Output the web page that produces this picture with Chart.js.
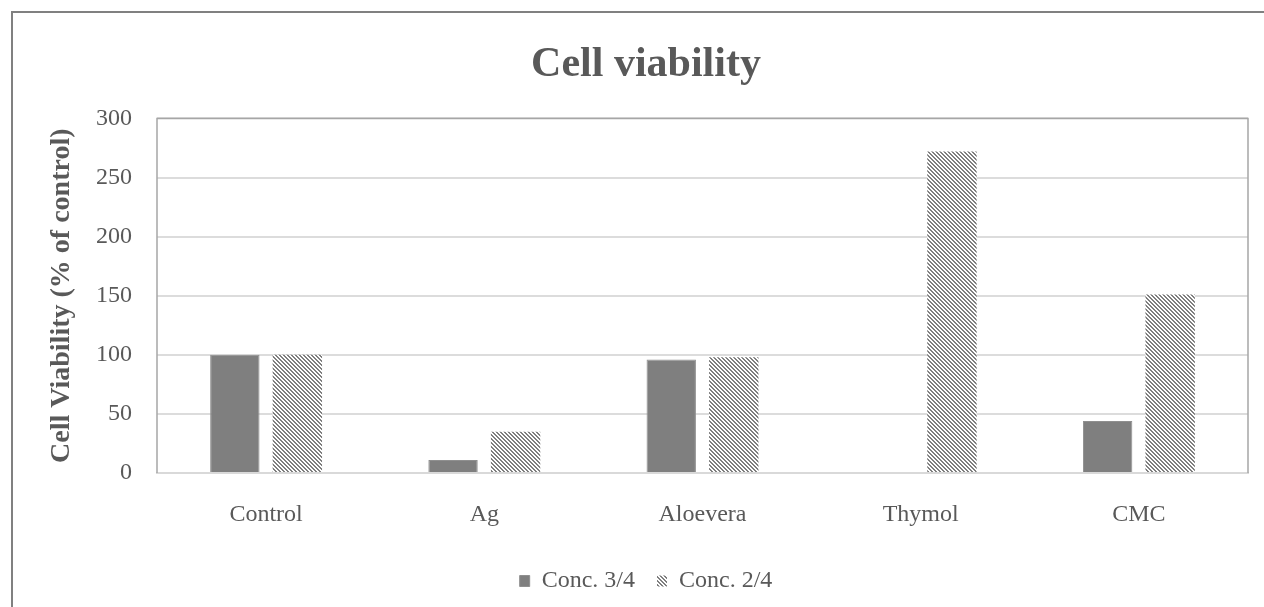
<!DOCTYPE html>
<html>
<head>
<meta charset="utf-8">
<script src="https://cdn.jsdelivr.net/npm/chart.js@4.4.0/dist/chart.umd.min.js"></script>
<style>
  html, body { margin: 0; padding: 0; background: #fff; overflow: hidden; width: 1264px; height: 607px; }
  #frame { position: absolute; left: 11px; top: 11px; width: 3000px; height: 3000px;
           border-top: 2px solid #808080; border-left: 2px solid #808080; }
  /* the original frame runs past the right edge, so the canvas does too */
  #wrap { position: absolute; left: 0; top: 0; width: 1292px; height: 607px; }
</style>
</head>
<body>
<div id="frame"></div>
<div id="wrap"><canvas id="chart"></canvas></div>
<script>
const categories = ['Control', 'Ag', 'Aloevera', 'Thymol', 'CMC'];
const conc34 = [100, 11, 96, 0, 44];
const conc24 = [100, 35, 98, 272, 151];
const yTicks = [0, 50, 100, 150, 200, 250, 300];

const FONT = "'Liberation Serif', 'Times New Roman', serif";
const TEXT = '#595959';

// diagonal hatch like Excel's "dark downward diagonal"
function makeHatch() {
    const c = document.createElement('canvas');
    c.width = 4; c.height = 4;
    const g = c.getContext('2d');
    g.fillStyle = '#ffffff';
    g.fillRect(0, 0, 4, 4);
    g.fillStyle = '#7f7f7f';
    for (let y = 0; y < 4; y++) {
        for (let x = 0; x < 4; x++) {
            if (((x - y + 8) % 4) < 2) g.fillRect(x, y, 1, 1);
        }
    }
    return g.createPattern(c, 'repeat');
}
const hatch = makeHatch();

const plotBox = {
    id: 'plotBox',
    afterDatasetsDraw(chart) {
        const {ctx, chartArea: a} = chart;
        ctx.save();
        ctx.strokeStyle = '#a6a6a6';
        ctx.lineWidth = 1.5;
        ctx.beginPath();
        ctx.moveTo(a.left, a.bottom);
        ctx.lineTo(a.left, a.top);
        ctx.lineTo(a.right, a.top);
        ctx.lineTo(a.right, a.bottom);
        ctx.stroke();
        ctx.restore();
    }
};

new Chart(document.getElementById('chart'), {
    type: 'bar',
    data: {
        labels: categories,
        datasets: [{
            label: 'Conc. 3/4',
            data: conc34,
            backgroundColor: '#7f7f7f',
            borderColor: '#8f8f8f',
            borderWidth: 1
        }, {
            label: 'Conc. 2/4',
            data: conc24,
            backgroundColor: hatch,
            borderWidth: 0
        }]
    },
    options: {
        responsive: true,
        maintainAspectRatio: false,
        animation: false,
        categoryPercentage: 0.573,
        barPercentage: 0.79,
        layout: { padding: { left: 44, right: 44, top: 0, bottom: 4 } },
        plugins: {
            title: {
                display: true,
                text: 'Cell viability',
                color: TEXT,
                font: { family: FONT, size: 42, weight: 'bold' },
                padding: { top: 40, bottom: 28 }
            },
            legend: {
                position: 'bottom',
                labels: {
                    color: TEXT,
                    font: { family: FONT, size: 24 },
                    boxWidth: 10,
                    boxHeight: 11,
                    padding: 22
                }
            },
            tooltip: { enabled: false }
        },
        scales: {
            x: {
                grid: { display: false },
                border: { display: true, color: '#d9d9d9', width: 2 },
                ticks: { color: TEXT, font: { family: FONT, size: 24 }, padding: 19 },
                afterFit(scale) { scale.height = 74; }
            },
            y: {
                min: 0,
                max: 300,
                afterBuildTicks(scale) { scale.ticks = yTicks.map(v => ({ value: v })); },
                grid: { color: '#dcdcdc', lineWidth: 2, drawTicks: false },
                border: { display: false },
                ticks: { color: TEXT, font: { family: FONT, size: 24 }, padding: 25 },
                title: {
                    display: true,
                    text: 'Cell Viability (% of control)',
                    color: TEXT,
                    font: { family: FONT, size: 28, weight: 'bold' },
                    padding: { top: 1, bottom: 0 }
                },
                afterFit(scale) { scale.width = 113; }
            }
        }
    },
    plugins: [plotBox]
});
</script>
</body>
</html>
